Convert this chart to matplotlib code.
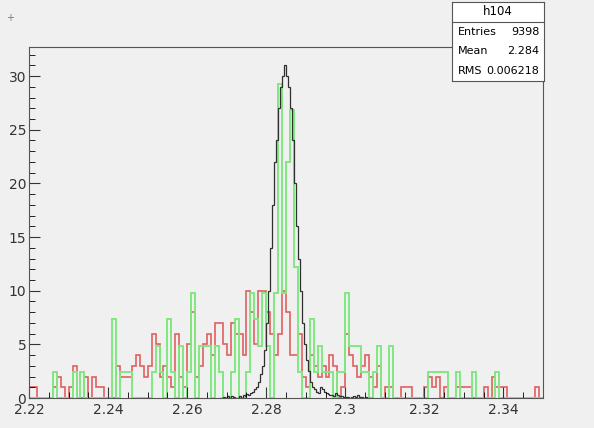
import numpy as np
import matplotlib
matplotlib.use("Agg")
import matplotlib.pyplot as plt

red = [1,1,0,0,0,0,1,2,1,0, 1,3,0,0,2,0,2,1,1,0, 0,0,3,2,2,2,3,4,3,2,
       3,6,5,2,3,2,1,6,2,1, 5,8,2,3,5,6,4,7,7,5, 4,7,6,6,4,10,8,5,10,10,
       8,6,4,6,10,8,4,4,6,2, 1,4,3,2,3,2,4,3,0,1, 6,4,3,2,3,4,2,1,3,0,
       1,1,0,0,1,1,1,0,0,0, 1,2,1,2,0,1,0,0,1,1, 1,1,0,0,0,1,0,2,1,1,
       1,0,0,0,0,0,0,0,1,0]
green_units = [0,0,0,0,0,0,1,0,0,0, 0,1,0,1,0,0,0,0,0,0, 0,3,0,1,1,1,0,0,0,0,
       0,1,2,1,0,3,1,0,2,0, 1,4,0,2,2,2,0,2,1,0, 0,1,3,0,0,1,4,3,2,4,
       2,0,4,12,4,9,11,5,1,0, 0,3,1,2,1,1,1,0,1,1, 4,2,2,2,1,1,0,1,2,0,
       0,2,0,0,0,0,0,0,0,0, 0,1,1,1,1,1,0,0,1,0, 0,0,1,0,0,0,0,0,1,0,
       0,0,0,0,0,0,0,0,0,0]
green_weight = 2.44
black = [0,0,0.1,0,0.2,0,0.2,0.1,
         0,0,0.2,0,0.3,0.2,0.4,0.3,0.5,0.6,
         0.8,1,1.5,2.2,3,4.5,7,10,14,18,
         22,24,27,29,30,31,30,29,27,24,
         20,16,13,10,7,5,3.5,2.5,1.5,1,
         0.8,0.6,0.5,1,0.8,0.6,0.5,0.4,0.3,0.3,
         0.2,0.5,0.3,0.2,0.2,0.1,0.1,0.1,0.0,0.1,
         0.2,0.1,0.3,0.1,0.1,0,0.1,0,0,0]
black_start = 2.268

red_edges = 2.22 + 0.001*np.arange(len(red)+1)
green = np.array(green_units)*green_weight
black_edges = black_start + 0.0005*np.arange(len(black)+1)

bg = "#f0f0f0"
fig = plt.figure(figsize=(5.94,4.28), dpi=100, facecolor=bg)
ax = fig.add_axes([0.049, 0.070, 0.865, 0.820], facecolor=bg)
ax.stairs(red, red_edges, color="#e06060", lw=1.2)
ax.stairs(green, red_edges, color="#80e880", lw=1.4)
ax.stairs(black, black_edges, color="#303030", lw=0.9)
ax.set_xlim(2.22, 2.35)
ax.set_ylim(0, 32.7)
ax.set_xticks([2.22,2.24,2.26,2.28,2.3,2.32,2.34])
ax.set_xticklabels(["2.22","2.24","2.26","2.28","2.3","2.32","2.34"])
ax.set_yticks([0,5,10,15,20,25,30])
ax.xaxis.set_minor_locator(matplotlib.ticker.MultipleLocator(0.005))
ax.yaxis.set_minor_locator(matplotlib.ticker.MultipleLocator(1))
ax.tick_params(direction="in", length=8, labelsize=10, color="#333333", labelcolor="#333333")
ax.tick_params(axis="y", pad=2)
ax.tick_params(which="minor", direction="in", length=4)
for s in ax.spines.values():
    s.set_color("#555555"); s.set_linewidth(0.8)

# stats box
bx = fig.add_axes([452/594, 1-81/428, 92/594, 79/428], facecolor="white")
bx.set_xticks([]); bx.set_yticks([])
for s in bx.spines.values():
    s.set_color("#555555"); s.set_linewidth(0.8)
bx.set_xlim(0,1); bx.set_ylim(0,4)
bx.axhline(3, color="#555555", lw=0.8)
bx.text(0.5, 3.5, "h104", ha="center", va="center", fontsize=8.5)
rows = [("Entries","9398"),("Mean","2.284"),("RMS","0.006218")]
for i,(k,v) in enumerate(rows):
    y = 2.5 - i
    bx.text(0.06, y, k, ha="left", va="center", fontsize=8)
    bx.text(0.95, y, v, ha="right", va="center", fontsize=8)
fig.text(10/594, 1-18/428, "+", fontsize=7, color="#777777", ha="center", va="center")
fig.savefig("out.png", dpi=100, facecolor=bg)
